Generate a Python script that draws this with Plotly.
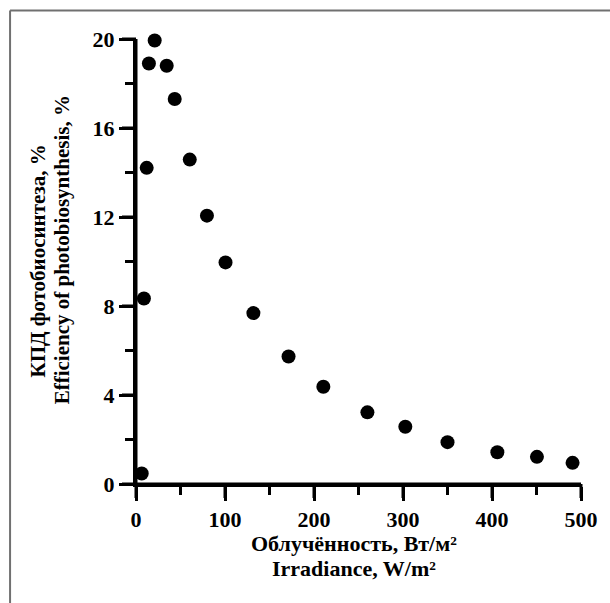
import plotly.graph_objects as go

irradiance = [6.4, 8.9, 12, 14.5, 21, 34.5, 43.5, 60.4, 79.7, 100.6, 131.9, 171.4, 210.5, 260, 302.6, 350, 406, 450.5, 490.5]
efficiency = [0.47, 8.34, 14.21, 18.9, 19.93, 18.8, 17.3, 14.58, 12.06, 9.96, 7.68, 5.73, 4.37, 3.22, 2.57, 1.88, 1.43, 1.22, 0.95]

x_title_lines = ["Облучённость, Вт/м²", "Irradiance, W/m²"]
y_title_lines = ["КПД фотобиосинтеза, %", "Efficiency of photobiosynthesis, %"]
x_ticks = [0, 100, 200, 300, 400, 500]
y_ticks = [0, 4, 8, 12, 16, 20]

def sfont(size):
    return dict(family="Liberation Serif", size=size, color="black", weight="bold")

xr = [x_ticks[0], x_ticks[-1]]
yr = [y_ticks[0], y_ticks[-1]]
xd = x_ticks[1] - x_ticks[0]
yd = y_ticks[1] - y_ticks[0]
x_minor = [v + xd / 2 for v in x_ticks[:-1]]
y_minor = [v + yd / 2 for v in y_ticks[:-1]]

MAJ, MIN, LW = 14, 8, 3
HW = LW / 2

def xp(v):
    return (v - xr[0]) / (xr[1] - xr[0])

def yp(v):
    return (v - yr[0]) / (yr[1] - yr[0])

fig = go.Figure(go.Scatter(
    x=irradiance, y=efficiency, mode="markers",
    marker=dict(color="black", size=14),
    cliponaxis=False,
))

common = dict(showline=True, linewidth=LW, linecolor="black", layer="above traces",
              ticks="outside", ticklen=MAJ, tickwidth=LW, tickcolor="black",
              showgrid=False, zeroline=False, tickfont=sfont(22), tickmode="linear")

fig.update_layout(
    width=610, height=603,
    margin=dict(l=136, r=27, t=39, b=119),
    paper_bgcolor="white", plot_bgcolor="white",
    showlegend=False, font=sfont(22),
    xaxis=dict(range=xr, tick0=x_ticks[0], dtick=xd,
               minor=dict(ticks="outside", ticklen=MIN, tickwidth=LW, tickcolor="black", dtick=xd / 2),
               **common),
    yaxis=dict(range=yr, tick0=y_ticks[0], dtick=yd,
               minor=dict(ticks="outside", ticklen=MIN, tickwidth=LW, tickcolor="black", dtick=yd / 2),
               **common),
)

# axis lines and ticks also drawn as filled bars
bar = dict(type="rect", xref="paper", yref="paper", fillcolor="black",
           line=dict(width=0), layer="above")
fig.add_shape(**bar, x0=0, x1=1, ysizemode="pixel", yanchor=0, y0=-HW, y1=HW)
fig.add_shape(**bar, y0=0, y1=1, xsizemode="pixel", xanchor=0, x0=-HW, x1=HW)
for vals, ln in ((x_ticks, MAJ), (x_minor, MIN)):
    for v in vals:
        fig.add_shape(**bar, xsizemode="pixel", xanchor=xp(v), x0=-HW, x1=HW,
                      ysizemode="pixel", yanchor=0, y0=-ln, y1=0)
for vals, ln in ((y_ticks, MAJ), (y_minor, MIN)):
    for v in vals:
        fig.add_shape(**bar, ysizemode="pixel", yanchor=yp(v), y0=-HW, y1=HW,
                      xsizemode="pixel", xanchor=0, x0=-ln, x1=0)

# axis titles (two lines each)
fig.add_annotation(text=x_title_lines[0], xref="paper", yref="paper", x=0.49, y=-0.1348,
                   showarrow=False, font=sfont(22), xanchor="center", yanchor="middle")
fig.add_annotation(text=x_title_lines[1], xref="paper", yref="paper", x=0.49, y=-0.191,
                   showarrow=False, font=sfont(22), xanchor="center", yanchor="middle")
fig.add_annotation(text=y_title_lines[0], xref="paper", yref="paper", x=-0.2192, y=0.501,
                   showarrow=False, font=sfont(21), textangle=-90, xanchor="center", yanchor="middle")
fig.add_annotation(text=y_title_lines[1], xref="paper", yref="paper", x=-0.1655, y=0.526,
                   showarrow=False, font=sfont(21), textangle=-90, xanchor="center", yanchor="middle")

# partial frame (top and left edges of the original image border)
fl = (9.5 - 136) / 447
ft = (484 - 10.5) / 445
fig.add_shape(type="line", xref="paper", yref="paper", x0=fl, x1=1.2, y0=ft, y1=ft,
              line=dict(color="#707070", width=2))
fig.add_shape(type="line", xref="paper", yref="paper", x0=fl, x1=fl, y0=ft, y1=-0.4,
              line=dict(color="#707070", width=2))

fig.write_html("out.html")
